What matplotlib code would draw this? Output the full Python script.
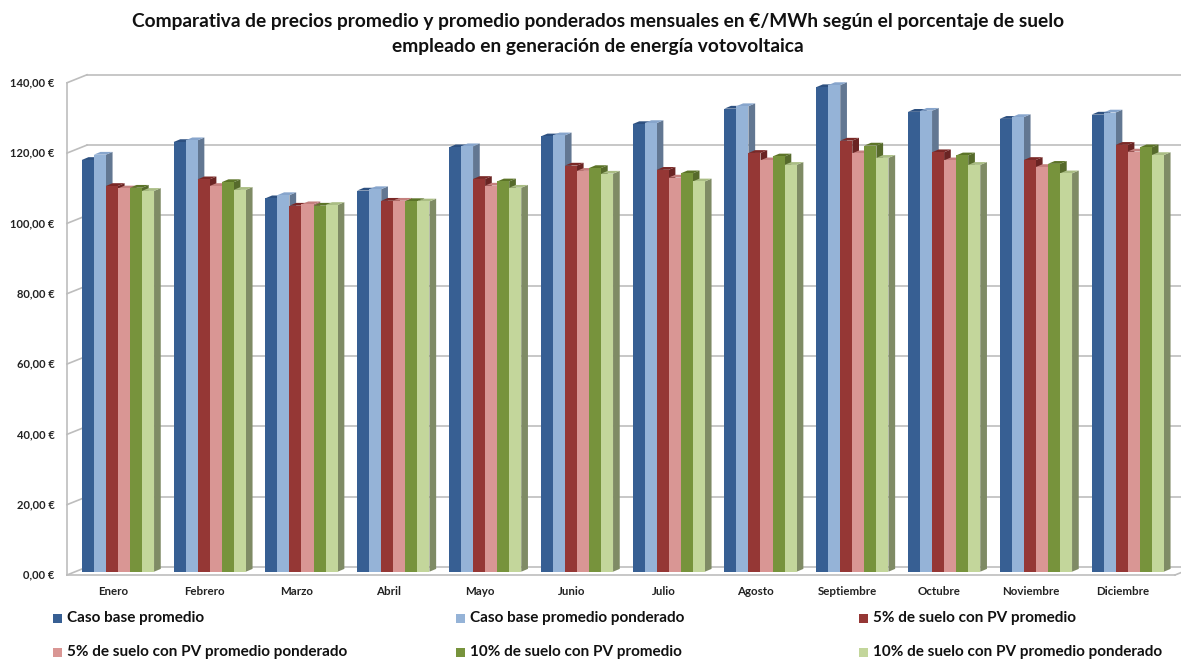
import matplotlib.pyplot as plt
from matplotlib.collections import PolyCollection
from matplotlib.patches import Rectangle

plt.rcParams['font.family'] = ['Lato', 'DejaVu Sans']

meses = ['Enero', 'Febrero', 'Marzo', 'Abril', 'Mayo', 'Junio', 'Julio',
         'Agosto', 'Septiembre', 'Octubre', 'Noviembre', 'Diciembre']

caso_base = [117.1, 122.2, 106.2, 108.4, 120.7, 123.8, 127.3, 131.7, 137.8, 130.8, 128.8, 130.0]
caso_base_pond = [118.6, 122.7, 107.1, 108.8, 121.0, 124.1, 127.6, 132.4, 138.4, 131.1, 129.3, 130.6]
pv5 = [109.7, 111.6, 104.1, 105.5, 111.7, 115.5, 114.3, 119.1, 122.6, 119.3, 117.1, 121.4]
pv5_pond = [109.0, 109.7, 104.5, 105.5, 109.8, 114.0, 112.1, 117.0, 119.0, 117.0, 115.1, 119.5]
pv10 = [109.2, 110.8, 104.1, 105.4, 111.0, 114.8, 113.3, 118.1, 121.2, 118.4, 116.0, 120.7]
pv10_pond = [108.3, 108.6, 104.3, 105.3, 109.2, 113.2, 111.0, 115.7, 117.7, 115.7, 113.3, 118.5]

series = [caso_base, caso_base_pond, pv5, pv5_pond, pv10, pv10_pond]
nombres = ['Caso base promedio', 'Caso base promedio ponderado',
           '5% de suelo con PV promedio', '5% de suelo con PV promedio ponderado',
           '10% de suelo con PV promedio', '10% de suelo con PV promedio ponderado']

y_ticks = [0, 20, 40, 60, 80, 100, 120, 140]

# front / top / side shades for each series (pseudo 3D columns)
frente = ['#375f93', '#95b3d7', '#953735', '#d99694', '#77933c', '#c3d69b']
arriba = ['#2d5080', '#87a5cc', '#7a2826', '#c47f7d', '#5c7428', '#aabd84']
lado = ['#2a4770', '#627792', '#6a2423', '#a46f6d', '#566a2b', '#7f8b65']

W, H = 1181, 664
fig = plt.figure(figsize=(W / 100, H / 100), dpi=100)

# axes maps the plane of the column fronts
px_cat = 91.8
px_val = 3.516
x0, y0 = 72, 571.7
ax = fig.add_axes([x0 / W, (H - y0) / H, 12 * px_cat / W, 140 * px_val / H])
ax.set_xlim(-0.5, 11.5)
ax.set_ylim(0, 140)
ax.axis('off')

# depth offsets (front plane, back wall, column depth) in data units
dxf, dyf = -5 / px_cat, -3.3 / px_val
dxb, dyb = 15 / px_cat, 4.7 / px_val
ddx, ddy = 6.7 / px_cat, 2.8 / px_val

grid_c = '#bdbdbd'
x_left = -0.5
x_right = 11.5
for v in y_ticks:
    # back wall gridline and its diagonal on the side wall
    ax.plot([x_left + dxb, x_right + dxb + 0.2], [v + dyb, v + dyb],
            color=grid_c, lw=1.2, clip_on=False, zorder=1)
    ax.plot([x_left + dxf, x_left + dxb], [v + dyf, v + dyb],
            color=grid_c, lw=1.2, clip_on=False, zorder=1)
    ax.annotate(f'{v},00 €', xy=(x_left + dxf, v + dyf), xytext=(-9, 0),
                textcoords='offset points', ha='right', va='center',
                fontsize=8, fontweight='bold', color='#222222',
                annotation_clip=False)

# front axis line and floor
ax.plot([x_left + dxf, x_left + dxf], [dyf, 140 + dyf], color=grid_c, lw=1.2,
        clip_on=False, zorder=1)
ax.plot([x_left + dxf, x_right + dxf + 0.07], [dyf, dyf], color=grid_c, lw=1.2,
        clip_on=False, zorder=1)
ax.plot([x_right + dxf + 0.07, x_right + dxb + 0.07], [dyf, dyb],
        color=grid_c, lw=1.2, clip_on=False, zorder=1)

w = 12.05 / px_cat
for k, vals in enumerate(series):
    xs = [i + (k - 2.5) * w for i in range(len(meses))]
    tops, sides = [], []
    for x, v in zip(xs, vals):
        l, r = x - w / 2, x + w / 2
        tops.append([(l, v), (r, v), (r + ddx, v + ddy), (l + ddx, v + ddy)])
        sides.append([(r, 0), (r + ddx, ddy), (r + ddx, v + ddy), (r, v)])
    ax.add_collection(PolyCollection(sides, facecolors=lado[k], edgecolors='none',
                                     zorder=10 + 2 * k))
    ax.add_collection(PolyCollection(tops, facecolors=arriba[k], edgecolors='none',
                                     zorder=10 + 2 * k))
    ax.bar(xs, vals, width=w, color=frente[k], edgecolor='none', zorder=11 + 2 * k)

for i, m in enumerate(meses):
    ax.annotate(m, xy=(i + dxf, dyf), xytext=(0, -12), textcoords='offset points',
                ha='center', va='center', fontsize=8.3, fontweight='bold',
                color='#222222', annotation_clip=False)

fig.text(0.506, 0.981, 'Comparativa de precios promedio y promedio ponderados mensuales en €/MWh según el porcentaje de suelo\n'
         'empleado en generación de energía votovoltaica',
         ha='center', va='top', fontsize=13.8, fontweight='bold', linespacing=1.6,
         color='#111111')

# legend, two rows of three entries
col_x = [53, 456, 859]
row_y = [618, 652]
for k, nombre in enumerate(nombres):
    cx = col_x[k % 3]
    cy = row_y[k // 3]
    fig.add_artist(Rectangle((cx / W, (H - cy - 4.5) / H), 9 / W, 9 / H,
                             transform=fig.transFigure, facecolor=frente[k],
                             edgecolor='none'))
    fig.text((cx + 14) / W, (H - cy) / H, nombre, ha='left', va='center',
             fontsize=11, fontweight='bold', color='#111111')

fig.savefig('out.png', dpi=100)
